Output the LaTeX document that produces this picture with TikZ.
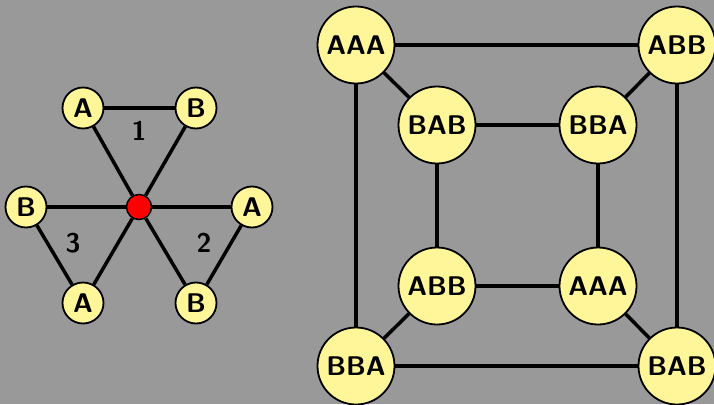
\documentclass[tikz,border=0pt]{standalone}
\definecolor{bggray}{RGB}{153,153,153}
\definecolor{nodeyellow}{RGB}{255,246,153}
\definecolor{hubred}{RGB}{255,0,0}
\tikzset{
  lbl/.style={font=\sffamily\bfseries\fontsize{27}{27}\selectfont},
  small/.style={circle, draw=black, line width=1.8pt, fill=nodeyellow, minimum size=41pt, inner sep=0pt, lbl},
  big/.style={circle, draw=black, line width=1.8pt, fill=nodeyellow, minimum size=77pt, inner sep=0pt, lbl},
  hub/.style={circle, draw=black, line width=1.5pt, fill=hubred, minimum size=25pt, inner sep=0pt},
  edge/.style={draw=black, line width=3.5pt},
  num/.style={lbl, inner sep=0pt}
}
\begin{document}
\begin{tikzpicture}[x=1pt,y=-1pt]
  \fill[bggray] (0,0) rectangle (714,404);
  \useasboundingbox (0,0) rectangle (714,404);

  % star of three triangles around the red hub
  \node[hub] (c) at (139,207) {};
  \node[small] (a1) at (83,108) {A};
  \node[small] (b1) at (196,108) {B};
  \node[small] (a2) at (252,207) {A};
  \node[small] (b2) at (196,303) {B};
  \node[small] (a3) at (83,303) {A};
  \node[small] (b3) at (26,207) {B};
  \node[num] (n1) at (139,131) {1};
  \node[num] (n2) at (204,243) {2};
  \node[num] (n3) at (73,243) {3};

  \draw[edge] (a1) -- (b1);
  \draw[edge] (a1) -- (c);
  \draw[edge] (b1) -- (c);
  \draw[edge] (c) -- (a2);
  \draw[edge] (a2) -- (b2);
  \draw[edge] (b2) -- (c);
  \draw[edge] (c) -- (a3);
  \draw[edge] (a3) -- (b3);
  \draw[edge] (b3) -- (c);

  % cube graph
  \node[big] (oAAA) at (356,45) {AAA};
  \node[big] (oABB) at (677,45) {ABB};
  \node[big] (oBBA) at (356,366) {BBA};
  \node[big] (oBAB) at (677,366) {BAB};
  \node[big] (iBAB) at (437,125) {BAB};
  \node[big] (iBBA) at (598,125) {BBA};
  \node[big] (iABB) at (437,286) {ABB};
  \node[big] (iAAA) at (598,286) {AAA};

  \draw[edge] (oAAA) -- (oABB);
  \draw[edge] (oABB) -- (oBAB);
  \draw[edge] (oBAB) -- (oBBA);
  \draw[edge] (oBBA) -- (oAAA);
  \draw[edge] (iBAB) -- (iBBA);
  \draw[edge] (iBBA) -- (iAAA);
  \draw[edge] (iAAA) -- (iABB);
  \draw[edge] (iABB) -- (iBAB);
  \draw[edge] (oAAA) -- (iBAB);
  \draw[edge] (oABB) -- (iBBA);
  \draw[edge] (oBBA) -- (iABB);
  \draw[edge] (oBAB) -- (iAAA);
\end{tikzpicture}
\end{document}
